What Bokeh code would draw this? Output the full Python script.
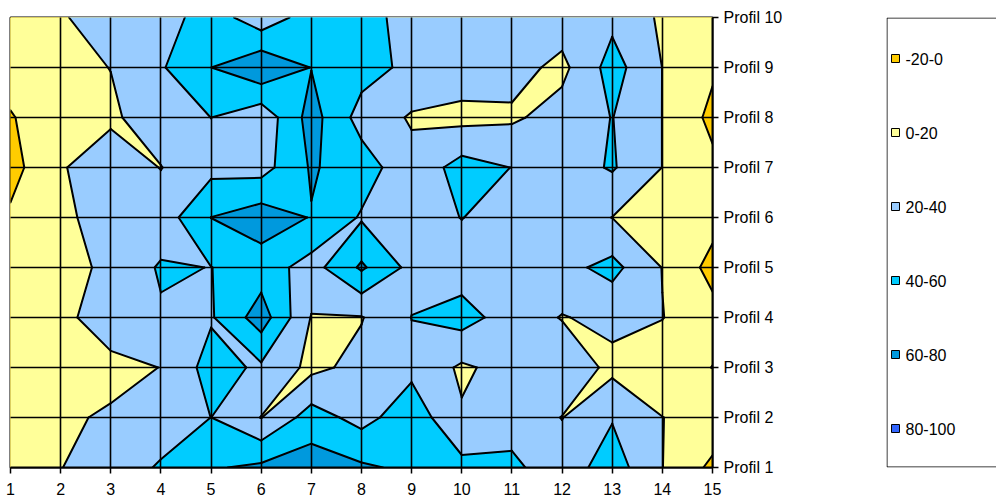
import numpy as np
from bokeh.plotting import figure
from bokeh.models import Range1d, FixedTicker
from bokeh.layouts import row
from bokeh.embed import file_html
from bokeh.resources import INLINE
from bokeh.core.properties import value

# ---------------- data ----------------
x_positions = list(range(1, 16))
y_positions = list(range(1, 11))
profile_labels = [f"Profil {i}" for i in y_positions]

profil_1 = [10, 19.5, 30, 42, 58, 64, 70, 63, 56, 46, 44, 29, 50, 20.3, -4.5]
profil_2 = [10, 17.5, 22, 30, 40.1, 19.5, 49, 33, 52, 22, 32, 19.5, 38.6, 20.2, 14]
profil_3 = [10, 10, 15, 20.3, 48, 36.6, 15, 26, 35, 17, 27, 34, 15, 10, -0.3]
profil_4 = [10, 15, 30, 38, 38, 70, 19, 19, 40.3, 48, 30.6, 19, 25, 20.5, 7]
profil_5 = [10, 10, 26, 42, 39.7, 50, 32, 63, 34, 30, 30, 34, 46, 19.5, -6.5]
profil_6 = [3, 16, 28, 29, 60.2, 71, 59, 38, 30, 40.5, 30, 30, 19.8, 12, 7]
profil_7 = [-7, 18.5, 30, 19.5, 34, 32, 62, 50, 26, 48, 39.7, 30, 42, 19.8, 4.6]
profil_8 = [-2, 18, 17, 30, 40.1, 26, 68, 32, 18, 14, 17, 28, 40.5, 19.8, -5]
profil_9 = [12, 15, 20.3, 38, 59.9, 77, 59.5, 48, 35, 32, 27, 15, 48, 19.8, 3]
profil_10 = [10, 18, 30, 30, 51, 27, 50, 45, 35, 32, 30, 30, 35, 17, 8]

band_levels = [-20, 0, 20, 40, 60, 80, 100]
band_labels = ["-20-0", "0-20", "20-40", "40-60", "60-80", "80-100"]
band_colors = ["#FFCC00", "#FFFF99", "#99CCFF", "#00CCFF", "#0099DD", "#3366FF"]

z = np.array([profil_1, profil_2, profil_3, profil_4, profil_5,
              profil_6, profil_7, profil_8, profil_9, profil_10], dtype=float)


# ------------- marching squares (superlevel sets, saddles keep highs apart) -------------
def cell_polys(cx, cy, cz, L):
    hi = [v >= L for v in cz]
    n = sum(hi)
    if n == 0:
        return [], []

    def cross(i, j):
        t = (L - cz[i]) / (cz[j] - cz[i])
        return (cx[i] + t * (cx[j] - cx[i]), cy[i] + t * (cy[j] - cy[i]))

    if n == 2 and hi[0] == hi[2]:
        polys, segs = [], []
        for k in range(4):
            if hi[k]:
                a = cross(k, (k - 1) % 4)
                b = cross(k, (k + 1) % 4)
                polys.append([a, (cx[k], cy[k]), b])
                segs.append([a, b])
        return polys, segs
    pts, crossings = [], []
    for k in range(4):
        j = (k + 1) % 4
        if hi[k]:
            pts.append((cx[k], cy[k]))
        if hi[k] != hi[j]:
            c = cross(k, j)
            pts.append(c)
            crossings.append(c)
    segs = [crossings] if len(crossings) == 2 else []
    return [pts], segs


nr, nc = z.shape
fills = []
line_xs, line_ys = [], []
for li, L in enumerate(band_levels[:-1]):
    pxs, pys = [], []
    for r in range(nr - 1):
        for c in range(nc - 1):
            cx = [x_positions[c], x_positions[c + 1], x_positions[c + 1], x_positions[c]]
            cy = [y_positions[r], y_positions[r], y_positions[r + 1], y_positions[r + 1]]
            cz = [z[r, c], z[r, c + 1], z[r + 1, c + 1], z[r + 1, c]]
            polys, segs = cell_polys(cx, cy, cz, L)
            for poly in polys:
                pxs.append([p[0] for p in poly])
                pys.append([p[1] for p in poly])
            if li > 0:
                for s in segs:
                    line_xs.append([s[0][0], s[1][0]])
                    line_ys.append([s[0][1], s[1][1]])
    fills.append((pxs, pys, band_colors[li]))

# ---------------- main figure ----------------
FONT = "Liberation Sans"
p = figure(width=886, height=500, x_range=Range1d(1, 15), y_range=Range1d(1, 10),
           y_axis_location="right", output_backend="svg", toolbar_location=None,
           min_border_left=10, min_border_right=174, min_border_top=17, min_border_bottom=33)

for pxs, pys, col in fills:
    if pxs:
        p.patches(pxs, pys, fill_color=col, line_color=col, line_width=1)

p.multi_line(line_xs, line_ys, line_color="black", line_width=2,
             line_cap="round", line_join="round")

p.xaxis.ticker = FixedTicker(ticks=x_positions)
p.yaxis.ticker = FixedTicker(ticks=y_positions)
p.yaxis.major_label_overrides = {y: lab for y, lab in zip(y_positions, profile_labels)}
for ax in (p.xaxis, p.yaxis):
    ax.axis_line_color = "black"
    ax.axis_line_width = 2
    ax.major_tick_line_color = "black"
    ax.major_tick_line_width = 1.5
    ax.major_tick_in = 0
    ax.major_tick_out = 6
    ax.minor_tick_line_color = None
    ax.major_label_text_font = FONT
    ax.major_label_text_font_size = "16px"
    ax.major_label_text_color = "black"
p.xaxis.major_label_standoff = 9
p.yaxis.major_label_standoff = 5

p.grid.grid_line_color = "black"
p.grid.grid_line_width = 1.6
p.grid.grid_line_alpha = 1.0
p.grid.level = "overlay"
p.outline_line_color = "black"
p.outline_line_width = 2

# ---------------- legend figure ----------------
lg = figure(width=110, height=500, x_range=Range1d(0, 110), y_range=Range1d(0, 450),
            x_axis_location=None, y_axis_location=None, output_backend="svg",
            toolbar_location=None, min_border_left=0, min_border_right=0,
            min_border_top=17, min_border_bottom=33)
lg.grid.visible = False
lg.outline_line_color = None
lg.line([120, 0.5, 0.5, 120], [449.5, 449.5, 0.5, 0.5], line_color="black", line_width=1)
item_y = [450 - (41 + i * 74) for i in range(len(band_labels))]
lg.scatter([9] * len(band_labels), item_y, marker="square", size=8,
           fill_color=band_colors, line_color="black", line_width=1)
lg.text([19] * len(band_labels), item_y, text=band_labels, text_baseline="middle",
        text_font=value(FONT), text_font_size="16px", text_color="black")

layout = row(p, lg, spacing=0)
open("out.html", "w").write(file_html(layout, INLINE))
